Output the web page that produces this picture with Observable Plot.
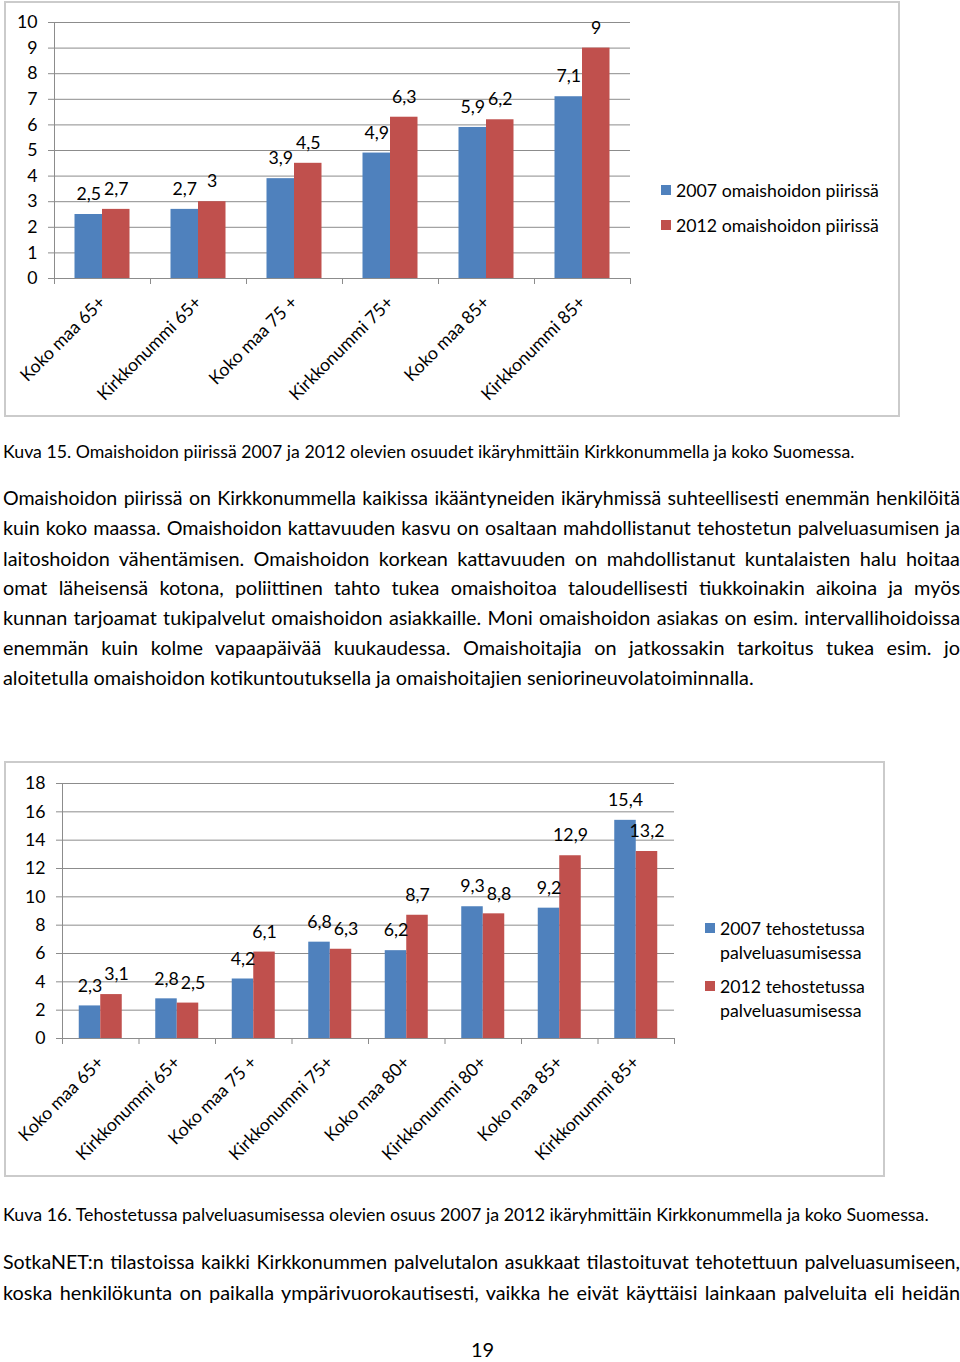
<!DOCTYPE html>
<html><head><meta charset="utf-8">
<script src="https://cdn.jsdelivr.net/npm/d3@7"></script>
<script src="https://cdn.jsdelivr.net/npm/@observablehq/plot@0.6"></script>
<style>
html,body{margin:0;padding:0;background:#fff;}
#page{position:relative;width:960px;height:1362px;overflow:hidden;font-family:Lato,"Noto Sans",sans-serif;color:#000;}
.box{position:absolute;border:2px solid #cbcbcb;box-sizing:border-box;}
.abs{position:absolute;white-space:nowrap;}
.sw{position:absolute;width:10px;height:10px;}
.chart{position:absolute;}
</style></head><body><div id="page"></div>
<script>
// ---------- data ----------
const categories1 = ["Koko maa 65+","Kirkkonummi 65+","Koko maa 75 +","Kirkkonummi 75+","Koko maa 85+","Kirkkonummi 85+"];
const omaishoito2007 = [2.5, 2.7, 3.9, 4.9, 5.9, 7.1];
const omaishoito2012 = [2.7, 3, 4.5, 6.3, 6.2, 9];
const yTicks1 = [0,1,2,3,4,5,6,7,8,9,10];
const legend1 = ["2007 omaishoidon piirissä", "2012 omaishoidon piirissä"];

const categories2 = ["Koko maa 65+","Kirkkonummi 65+","Koko maa 75 +","Kirkkonummi 75+","Koko maa 80+","Kirkkonummi 80+","Koko maa 85+","Kirkkonummi 85+"];
const tehostettu2007 = [2.3, 2.8, 4.2, 6.8, 6.2, 9.3, 9.2, 15.4];
const tehostettu2012 = [3.1, 2.5, 6.1, 6.3, 8.7, 8.8, 12.9, 13.2];
const yTicks2 = [0,2,4,6,8,10,12,14,16,18];
const legend2 = [["2007 tehostetussa","palveluasumisessa"],["2012 tehostetussa","palveluasumisessa"]];

const caption1 = "Kuva 15. Omaishoidon piirissä 2007 ja 2012 olevien osuudet ikäryhmittäin Kirkkonummella ja koko Suomessa.";
const paragraph1 = [
  "Omaishoidon piirissä on Kirkkonummella kaikissa ikääntyneiden ikäryhmissä suhteellisesti enemmän henkilöitä",
  "kuin koko maassa. Omaishoidon kattavuuden kasvu on osaltaan mahdollistanut tehostetun palveluasumisen ja",
  "laitoshoidon vähentämisen. Omaishoidon korkean kattavuuden on mahdollistanut kuntalaisten halu hoitaa",
  "omat läheisensä kotona, poliittinen tahto tukea omaishoitoa taloudellisesti tiukkoinakin aikoina ja myös",
  "kunnan tarjoamat tukipalvelut omaishoidon asiakkaille. Moni omaishoidon asiakas on esim. intervallihoidoissa",
  "enemmän kuin kolme vapaapäivää kuukaudessa.  Omaishoitajia on jatkossakin tarkoitus tukea esim. jo",
  "aloitetulla omaishoidon kotikuntoutuksella ja omaishoitajien seniorineuvolatoiminnalla."
];
const caption2 = "Kuva 16. Tehostetussa palveluasumisessa olevien osuus 2007 ja 2012 ikäryhmittäin Kirkkonummella ja koko Suomessa.";
const paragraph2 = [
  "SotkaNET:n tilastoissa kaikki Kirkkonummen palvelutalon asukkaat tilastoituvat tehotettuun palveluasumiseen,",
  "koska henkilökunta on paikalla ympärivuorokautisesti, vaikka he eivät käyttäisi lainkaan palveluita eli heidän"
];
const pageNumber = "19";

// ---------- styling ----------
const FONT = "Lato";
const BLUE = "#4F81BD", RED = "#C0504D", GRID = "#8c8c8c";
const page = document.getElementById("page");
const ctx = document.createElement("canvas").getContext("2d");
function measure(t, size) { ctx.font = `${size}px ${FONT}`; return ctx.measureText(t).width; }
function fit(t, target) { return 100 * target / measure(t, 100); }

const chartFont = fit(legend1[0], 203);
const bodySize = fit(paragraph1[paragraph1.length - 1], 751);
const cap1Size = fit(caption1, 852);
const cap2Size = fit(caption2, 927);

function el(tag, cls, style, text) {
  const d = document.createElement(tag);
  if (cls) d.className = cls;
  Object.assign(d.style, style);
  if (text != null) d.textContent = text;
  page.appendChild(d);
  return d;
}

const fmt = v => String(v).replace(".", ",");

function barChart({cats, a, b, ticks, width, height, margin, barW}) {
  const rows = cats.map((c, i) => ({c, a: a[i], b: b[i]}));
  const step = (width - margin.left - margin.right) / cats.length;
  const h = step / 2;
  const pxPerUnit = (height - margin.top - margin.bottom) / ticks[ticks.length - 1];
  // nudge a 2012 label to the right when it would collide with its 2007 neighbour
  const redLabels = rows.map(r => {
    const wa = measure(fmt(r.a), chartFont), wb = measure(fmt(r.b), chartFont);
    const over = (wa + wb) / 2 + 2 - barW;
    const vgap = Math.abs(r.a - r.b) * pxPerUnit;
    const shift = over > 0 && vgap < chartFont ? over : 0;
    return Plot.text([r], {x: "c", y: "b", text: d => fmt(d.b), dx: barW / 2 + shift, dy: -20, fontSize: chartFont, fill: "#000"});
  });
  return Plot.plot({
    width, height,
    marginTop: margin.top, marginRight: margin.right, marginBottom: margin.bottom, marginLeft: margin.left,
    style: {fontFamily: FONT, fontSize: chartFont + "px", color: "#000", background: "transparent", overflow: "visible"},
    x: {type: "band", domain: cats, padding: 0, round: false, label: null},
    y: {domain: [0, ticks[ticks.length - 1]], label: null},
    marks: [
      Plot.gridY(ticks, {stroke: GRID, strokeOpacity: 1}),
      Plot.barY(rows, {x: "c", y: "a", fill: BLUE, insetLeft: h - barW, insetRight: h}),
      Plot.barY(rows, {x: "c", y: "b", fill: RED, insetLeft: h, insetRight: h - barW}),
      Plot.ruleY([0], {stroke: GRID}),
      Plot.frame({anchor: "left", stroke: GRID}),
      Plot.axisY(ticks, {tickSize: 6, tickPadding: 11, stroke: GRID, fill: "#000", fontSize: chartFont, tickFormat: d => String(d)}),
      Plot.axisX(cats, {tickSize: 6, stroke: GRID, dx: -h, tickFormat: () => ""}),
      Plot.axisX([cats[cats.length - 1]], {tickSize: 6, stroke: GRID, dx: h, tickFormat: () => ""}),
      Plot.axisX(cats, {tickSize: 0, tickRotate: -45, tickPadding: 21, fontSize: chartFont, fill: "#000", tickFormat: d => d}),
      Plot.text(rows, {x: "c", y: "a", text: d => fmt(d.a), dx: -barW / 2, dy: -20, fontSize: chartFont, fill: "#000"}),
      ...redLabels
    ]
  });
}

// ---------- chart 1 ----------
el("div", "box", {left: "4px", top: "1px", width: "896px", height: "416px"});
const c1 = barChart({cats: categories1, a: omaishoito2007, b: omaishoito2012, ticks: yTicks1,
  width: 900, height: 420, margin: {top: 22, right: 270, bottom: 142, left: 54}, barW: 27.5});
const w1 = el("div", "chart", {left: "0px", top: "0px"}); w1.appendChild(c1);
[BLUE, RED].forEach((col, i) => {
  const cy = 190 + i * 35;
  el("div", "sw", {left: "661px", top: (cy - 5) + "px", background: col});
  el("div", "abs", {left: "676px", top: (cy - 10) + "px", fontSize: chartFont + "px", lineHeight: "22px"}, legend1[i]);
});

// ---------- caption + paragraph 1 ----------
el("div", "abs", {left: "3px", top: (452 - 15) + "px", fontSize: cap1Size + "px", lineHeight: "30px"}, caption1);
function paragraph(lines, startY, justifyLast) {
  lines.forEach((t, i) => {
    const top = startY + i * 29.8 - 15;
    const last = i === lines.length - 1 && !justifyLast;
    let size = bodySize;
    const nat = measure(t, size);
    if (!last && nat > 945) size = size * 945 / nat;
    const st = {left: "3px", top: top + "px", fontSize: size + "px", lineHeight: "30px"};
    if (!last) Object.assign(st, {width: "957px", textAlign: "justify", textAlignLast: "justify", whiteSpace: "normal"});
    el("div", "abs", st, t);
  });
}
paragraph(paragraph1, 498, false);

// ---------- chart 2 ----------
el("div", "box", {left: "4px", top: "761px", width: "881px", height: "416px"});
const c2 = barChart({cats: categories2, a: tehostettu2007, b: tehostettu2012, ticks: yTicks2,
  width: 890, height: 420, margin: {top: 23, right: 216, bottom: 142, left: 62}, barW: 21.5});
const w2 = el("div", "chart", {left: "0px", top: "760px"}); w2.appendChild(c2);
[BLUE, RED].forEach((col, i) => {
  const cy = 928 + i * 58;
  el("div", "sw", {left: "705px", top: (cy - 5) + "px", background: col});
  legend2[i].forEach((t, j) => {
    el("div", "abs", {left: "720px", top: (cy + j * 23.5 - 10) + "px", fontSize: chartFont + "px", lineHeight: "22px"}, t);
  });
});

// ---------- caption + paragraph 2 ----------
el("div", "abs", {left: "3px", top: (1214 - 15) + "px", fontSize: cap2Size + "px", lineHeight: "30px"}, caption2);
paragraph(paragraph2, 1262, true);
el("div", "abs", {left: "471px", top: "1337px", fontSize: "20px", lineHeight: "24px"}, pageNumber);
</script>
</body></html>
